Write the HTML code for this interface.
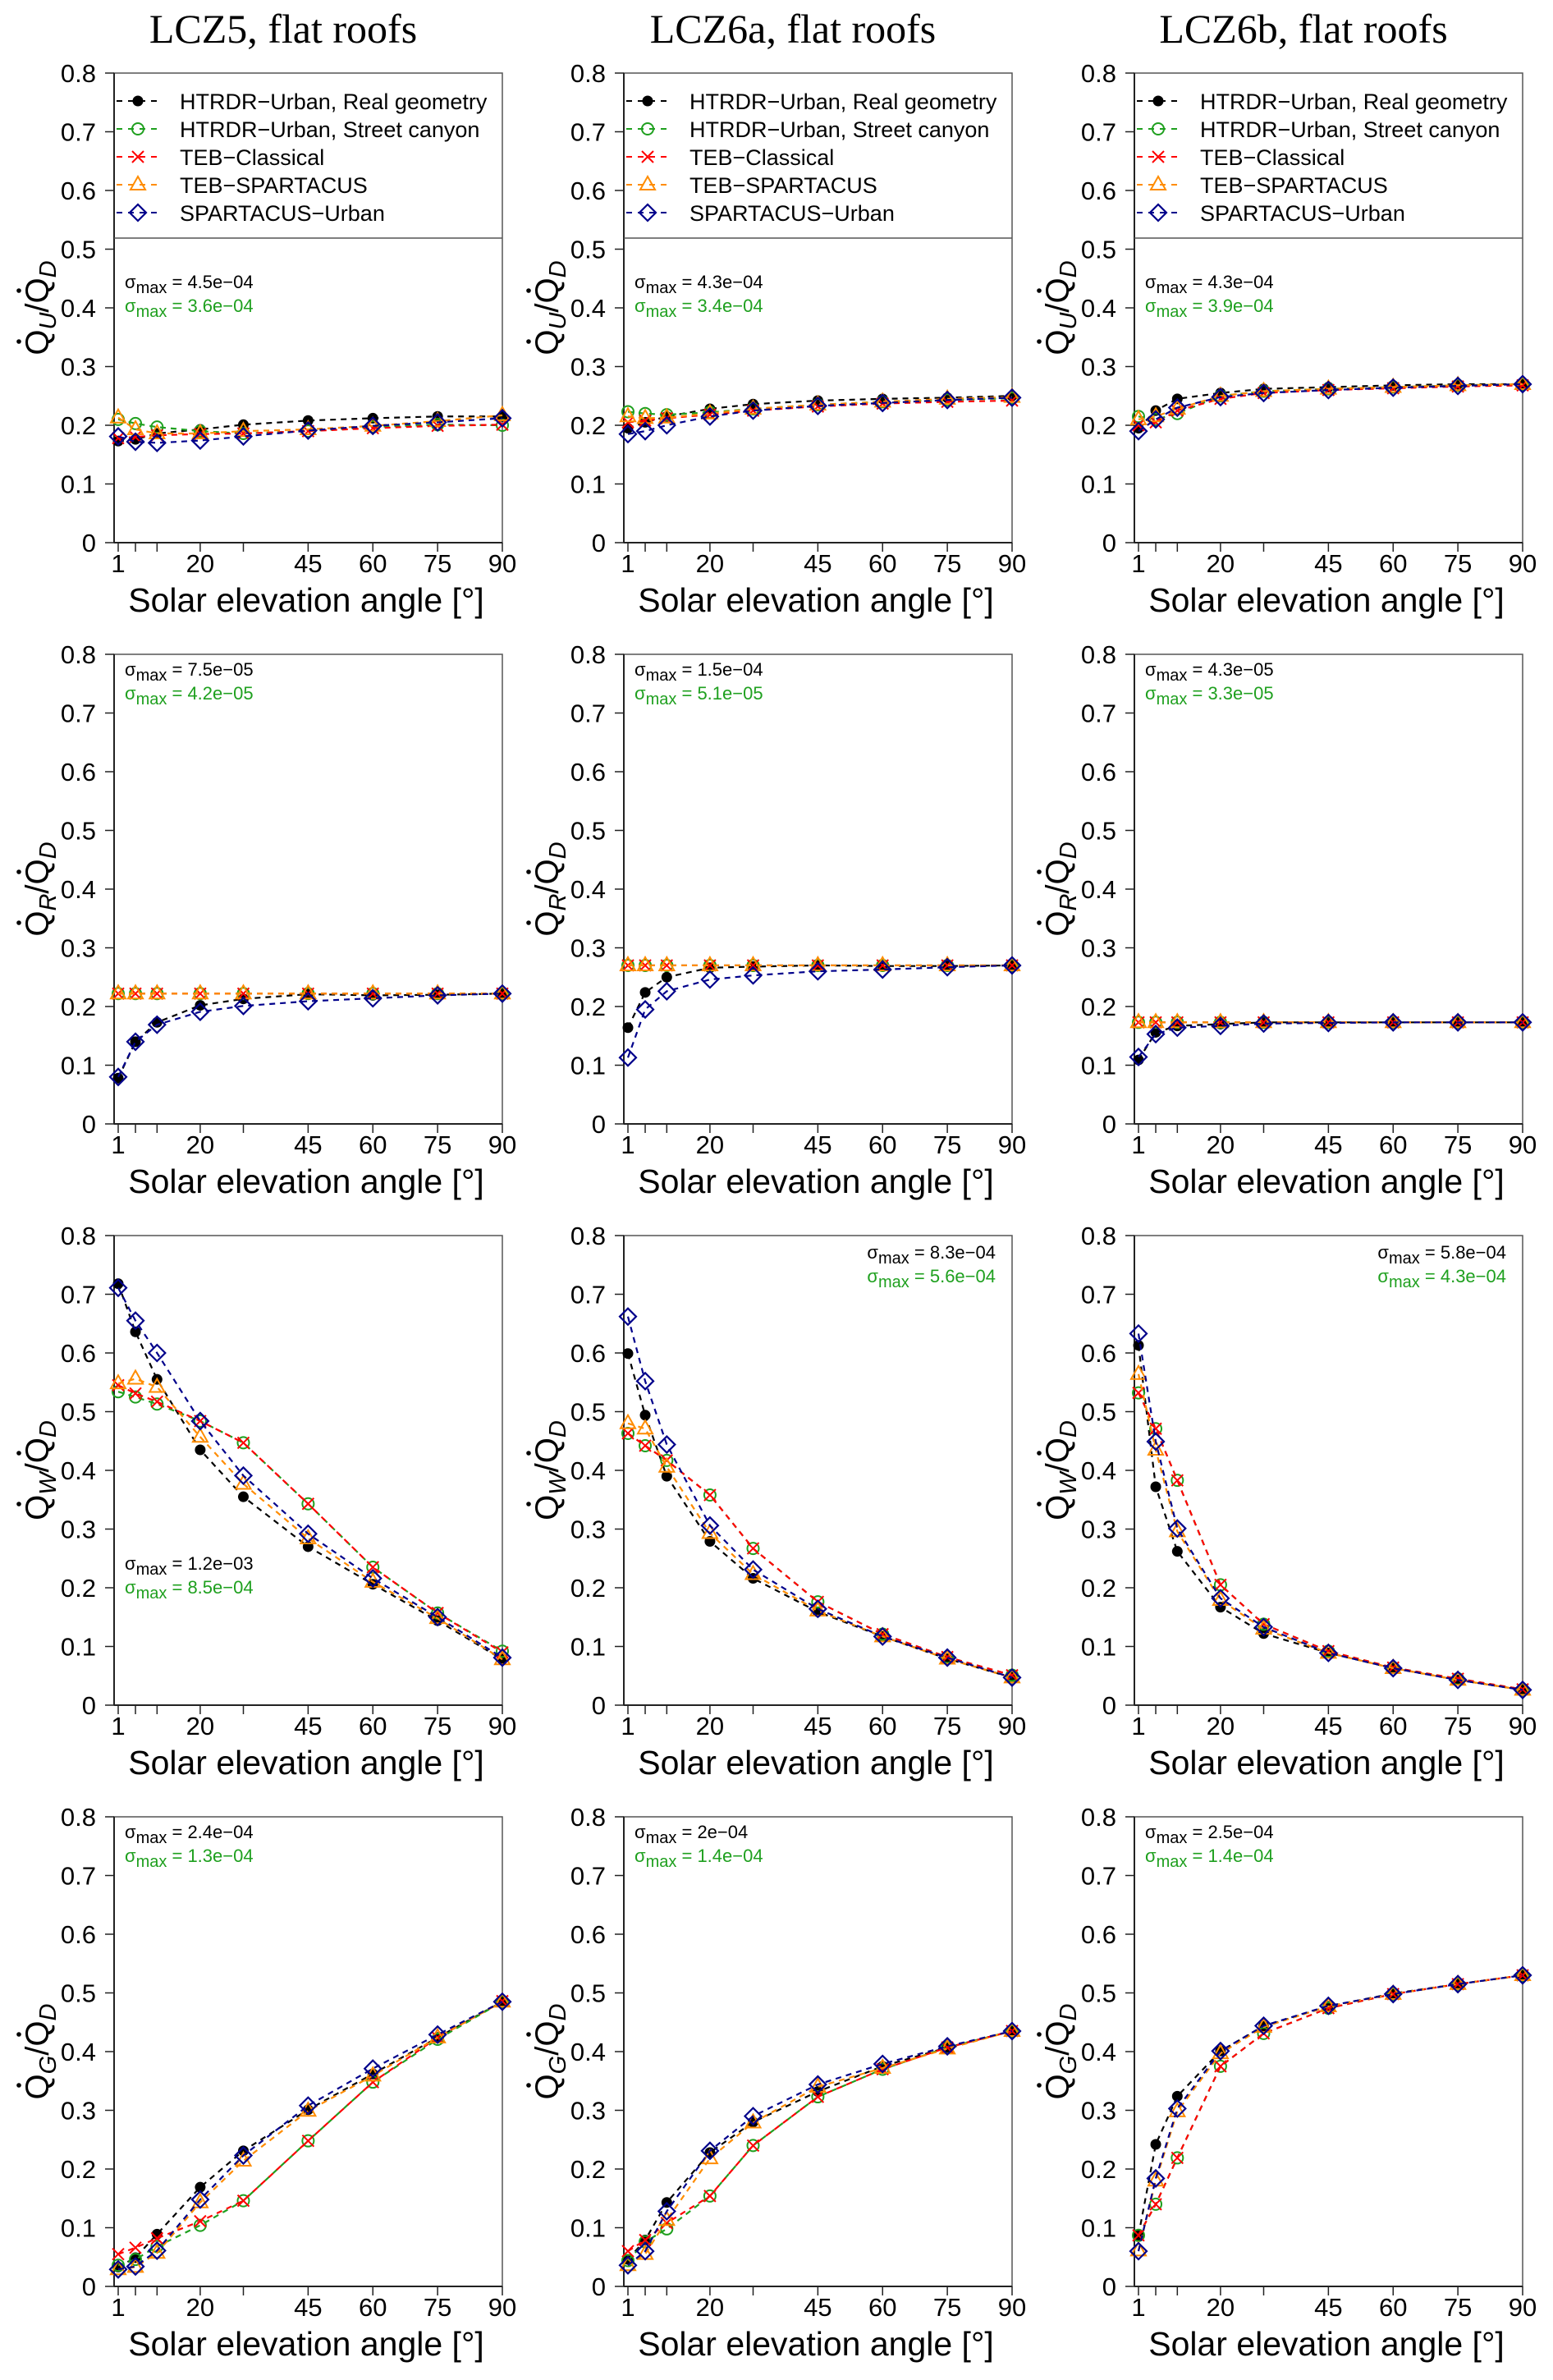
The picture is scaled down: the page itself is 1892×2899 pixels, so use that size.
<!DOCTYPE html>
<html><head><meta charset="utf-8"><style>
html,body{margin:0;padding:0;background:#fff;}
svg{display:block;font-family:"Liberation Sans",sans-serif;}
</style></head>
<body>
<svg id="fig" width="1892" height="2899" viewBox="0 0 1892 2899" xmlns="http://www.w3.org/2000/svg"></svg>
<script>
// ---- data ----
const angles = [1,5,10,20,30,45,60,75,90];
const xTickLabels = ["1","","","20","","45","60","75","90"];
const yTicks = [0,0.1,0.2,0.3,0.4,0.5,0.6,0.7,0.8];
const yTickLabels = ["0","0.1","0.2","0.3","0.4","0.5","0.6","0.7","0.8"];
const columnTitles = ["LCZ5, flat roofs","LCZ6a, flat roofs","LCZ6b, flat roofs"];
const seriesNames = ["HTRDR\u2212Urban, Real geometry","HTRDR\u2212Urban, Street canyon","TEB\u2212Classical","TEB\u2212SPARTACUS","SPARTACUS\u2212Urban"];
const rowVars = ["U","R","W","G"];

// Row U
const U_lcz5_real = [0.173,0.176,0.186,0.193,0.201,0.208,0.212,0.215,0.215];
const U_lcz5_canyon = [0.210,0.203,0.197,0.190,0.186,0.190,0.197,0.201,0.200];
const U_lcz5_teb = [0.178,0.180,0.183,0.185,0.186,0.190,0.195,0.199,0.201];
const U_lcz5_tebsp = [0.213,0.193,0.186,0.186,0.190,0.193,0.199,0.207,0.217];
const U_lcz5_sp = [0.181,0.172,0.170,0.174,0.181,0.191,0.199,0.205,0.212];
const U_lcz6a_real = [0.195,0.205,0.215,0.228,0.236,0.242,0.245,0.247,0.250];
const U_lcz6a_canyon = [0.223,0.220,0.218,0.222,0.228,0.235,0.240,0.243,0.246];
const U_lcz6a_teb = [0.205,0.208,0.212,0.218,0.225,0.232,0.237,0.240,0.242];
const U_lcz6a_tebsp = [0.215,0.212,0.213,0.220,0.228,0.235,0.240,0.245,0.248];
const U_lcz6a_sp = [0.185,0.190,0.200,0.215,0.225,0.233,0.238,0.243,0.247];
const U_lcz6b_real = [0.195,0.225,0.245,0.255,0.262,0.265,0.268,0.270,0.270];
const U_lcz6b_canyon = [0.215,0.210,0.220,0.250,0.258,0.262,0.265,0.268,0.270];
const U_lcz6b_teb = [0.200,0.205,0.225,0.245,0.255,0.260,0.263,0.266,0.268];
const U_lcz6b_tebsp = [0.210,0.215,0.228,0.250,0.258,0.262,0.265,0.268,0.270];
const U_lcz6b_sp = [0.190,0.210,0.230,0.248,0.255,0.260,0.264,0.267,0.270];
// Row R
const R_lcz5_real = [0.078,0.140,0.173,0.202,0.213,0.221,0.219,0.220,0.222];
const R_lcz5_canyon = [0.222,0.222,0.222,0.222,0.222,0.222,0.222,0.222,0.222];
const R_lcz5_teb = [0.222,0.222,0.222,0.222,0.222,0.222,0.222,0.222,0.222];
const R_lcz5_tebsp = [0.222,0.222,0.222,0.222,0.222,0.222,0.222,0.222,0.222];
const R_lcz5_sp = [0.080,0.140,0.169,0.191,0.201,0.209,0.214,0.219,0.222];
const R_lcz6a_real = [0.164,0.224,0.250,0.266,0.268,0.270,0.269,0.269,0.270];
const R_lcz6a_canyon = [0.270,0.270,0.270,0.270,0.270,0.270,0.270,0.270,0.270];
const R_lcz6a_teb = [0.270,0.270,0.270,0.270,0.270,0.270,0.270,0.270,0.270];
const R_lcz6a_tebsp = [0.270,0.270,0.270,0.270,0.270,0.270,0.270,0.270,0.270];
const R_lcz6a_sp = [0.113,0.195,0.226,0.246,0.253,0.260,0.263,0.267,0.270];
const R_lcz6b_real = [0.109,0.156,0.167,0.170,0.173,0.173,0.173,0.173,0.173];
const R_lcz6b_canyon = [0.173,0.173,0.173,0.173,0.173,0.173,0.173,0.173,0.173];
const R_lcz6b_teb = [0.173,0.173,0.173,0.173,0.173,0.173,0.173,0.173,0.173];
const R_lcz6b_tebsp = [0.173,0.173,0.173,0.173,0.173,0.173,0.173,0.173,0.173];
const R_lcz6b_sp = [0.114,0.153,0.164,0.167,0.171,0.172,0.173,0.173,0.173];
// Row W
const W_lcz5_real = [0.718,0.636,0.555,0.435,0.355,0.270,0.206,0.144,0.078];
const W_lcz5_canyon = [0.534,0.525,0.513,0.484,0.447,0.343,0.235,0.157,0.092];
const W_lcz5_teb = [0.545,0.531,0.517,0.484,0.447,0.343,0.235,0.157,0.090];
const W_lcz5_tebsp = [0.548,0.556,0.542,0.457,0.377,0.284,0.210,0.148,0.078];
const W_lcz5_sp = [0.711,0.655,0.600,0.484,0.391,0.292,0.216,0.150,0.081];
const W_lcz6a_real = [0.599,0.494,0.390,0.279,0.216,0.159,0.117,0.079,0.047];
const W_lcz6a_canyon = [0.463,0.442,0.417,0.358,0.267,0.176,0.121,0.082,0.051];
const W_lcz6a_teb = [0.463,0.442,0.417,0.358,0.267,0.176,0.121,0.082,0.051];
const W_lcz6a_tebsp = [0.480,0.471,0.406,0.293,0.223,0.161,0.117,0.079,0.047];
const W_lcz6a_sp = [0.662,0.552,0.444,0.306,0.231,0.164,0.117,0.081,0.047];
const W_lcz6b_real = [0.613,0.372,0.262,0.167,0.122,0.089,0.063,0.043,0.026];
const W_lcz6b_canyon = [0.532,0.471,0.383,0.205,0.138,0.092,0.064,0.045,0.027];
const W_lcz6b_teb = [0.532,0.471,0.383,0.205,0.138,0.092,0.064,0.045,0.027];
const W_lcz6b_tebsp = [0.564,0.435,0.296,0.179,0.130,0.089,0.063,0.043,0.026];
const W_lcz6b_sp = [0.633,0.449,0.301,0.182,0.133,0.089,0.063,0.043,0.026];
// Row G
const G_lcz5_real = [0.033,0.049,0.089,0.169,0.231,0.301,0.362,0.424,0.485];
const G_lcz5_canyon = [0.036,0.046,0.068,0.104,0.146,0.248,0.348,0.421,0.485];
const G_lcz5_teb = [0.055,0.066,0.082,0.111,0.146,0.248,0.348,0.424,0.486];
const G_lcz5_tebsp = [0.029,0.033,0.057,0.143,0.214,0.299,0.359,0.424,0.485];
const G_lcz5_sp = [0.029,0.034,0.061,0.148,0.223,0.308,0.371,0.429,0.485];
const G_lcz6a_real = [0.046,0.079,0.143,0.228,0.280,0.332,0.375,0.407,0.435];
const G_lcz6a_canyon = [0.044,0.076,0.098,0.154,0.240,0.323,0.370,0.407,0.435];
const G_lcz6a_teb = [0.060,0.079,0.108,0.154,0.240,0.323,0.370,0.407,0.435];
const G_lcz6a_tebsp = [0.036,0.055,0.113,0.218,0.279,0.340,0.372,0.405,0.435];
const G_lcz6a_sp = [0.036,0.060,0.128,0.231,0.290,0.344,0.379,0.409,0.435];
const G_lcz6b_real = [0.087,0.242,0.324,0.401,0.443,0.477,0.499,0.515,0.530];
const G_lcz6b_canyon = [0.087,0.140,0.219,0.375,0.431,0.474,0.498,0.515,0.530];
const G_lcz6b_teb = [0.087,0.140,0.219,0.375,0.431,0.474,0.498,0.515,0.530];
const G_lcz6b_tebsp = [0.061,0.180,0.298,0.397,0.442,0.477,0.498,0.515,0.530];
const G_lcz6b_sp = [0.060,0.184,0.303,0.401,0.444,0.478,0.498,0.515,0.530];

const sigmaBlack = [["4.5e\u221204","4.3e\u221204","4.3e\u221204"],["7.5e\u221205","1.5e\u221204","4.3e\u221205"],["1.2e\u221203","8.3e\u221204","5.8e\u221204"],["2.4e\u221204","2e\u221204","2.5e\u221204"]];
const sigmaGreen = [["3.6e\u221204","3.4e\u221204","3.9e\u221204"],["4.2e\u221205","5.1e\u221205","3.3e\u221205"],["8.5e\u221204","5.6e\u221204","4.3e\u221204"],["1.3e\u221204","1.4e\u221204","1.4e\u221204"]];

const panelData = [
 [[U_lcz5_real,U_lcz5_canyon,U_lcz5_teb,U_lcz5_tebsp,U_lcz5_sp],[U_lcz6a_real,U_lcz6a_canyon,U_lcz6a_teb,U_lcz6a_tebsp,U_lcz6a_sp],[U_lcz6b_real,U_lcz6b_canyon,U_lcz6b_teb,U_lcz6b_tebsp,U_lcz6b_sp]],
 [[R_lcz5_real,R_lcz5_canyon,R_lcz5_teb,R_lcz5_tebsp,R_lcz5_sp],[R_lcz6a_real,R_lcz6a_canyon,R_lcz6a_teb,R_lcz6a_tebsp,R_lcz6a_sp],[R_lcz6b_real,R_lcz6b_canyon,R_lcz6b_teb,R_lcz6b_tebsp,R_lcz6b_sp]],
 [[W_lcz5_real,W_lcz5_canyon,W_lcz5_teb,W_lcz5_tebsp,W_lcz5_sp],[W_lcz6a_real,W_lcz6a_canyon,W_lcz6a_teb,W_lcz6a_tebsp,W_lcz6a_sp],[W_lcz6b_real,W_lcz6b_canyon,W_lcz6b_teb,W_lcz6b_tebsp,W_lcz6b_sp]],
 [[G_lcz5_real,G_lcz5_canyon,G_lcz5_teb,G_lcz5_tebsp,G_lcz5_sp],[G_lcz6a_real,G_lcz6a_canyon,G_lcz6a_teb,G_lcz6a_tebsp,G_lcz6a_sp],[G_lcz6b_real,G_lcz6b_canyon,G_lcz6b_teb,G_lcz6b_tebsp,G_lcz6b_sp]]
];

// ---- layout ----
const NS = "http://www.w3.org/2000/svg";
const svg = document.getElementById('fig');
const colLeft = [139,760,1382];
const plotW = 473;
const rowTop = [89,797,1505,2213];
const plotH = 572;
const colors = ["#000000","#1fa01f","#ff0000","#ff8c00","#00008b"];
const markers = ["dot","circle","cross","tri","diamond"];
const drawOrder = [0,1,2,3,4];

function mk(tag, attrs, parent){
  const e = document.createElementNS(NS, tag);
  for (const k in attrs) e.setAttribute(k, attrs[k]);
  (parent||svg).appendChild(e);
  return e;
}
function xScale(c, v){ return colLeft[c] + 5 + (v-1)/89*(plotW-5); }
function yScale(r, v){ return rowTop[r] + plotH - v/0.8*plotH; }

function drawMarker(g, type, x, y, color){
  let m;
  if (type==="dot") m = mk('circle',{cx:x,cy:y,r:6.5,fill:color},g);
  else if (type==="circle") m = mk('circle',{cx:x,cy:y,r:7,fill:'none',stroke:color,'stroke-width':2},g);
  else if (type==="cross") m = mk('path',{d:`M${x-7},${y-7}L${x+7},${y+7}M${x-7},${y+7}L${x+7},${y-7}`,stroke:color,'stroke-width':2,fill:'none'},g);
  else if (type==="tri") m = mk('path',{d:`M${x},${y-10}L${x+9},${y+6}L${x-9},${y+6}Z`,stroke:color,'stroke-width':2,fill:'none'},g);
  else m = mk('path',{d:`M${x},${y-10}L${x+10},${y}L${x},${y+10}L${x-10},${y}Z`,stroke:color,'stroke-width':2.2,fill:'none'},g);
  return m;
}

function sigmaText(g, x, y, val, color, anchor){
  const t = mk('text',{x:x,y:y,'font-size':22,fill:color,'text-anchor':anchor},g);
  
  
  const s1 = mk('tspan',{},t); s1.textContent = "\u03c3";
  const s2 = mk('tspan',{dy:6,'font-size':20},t); s2.textContent = "max";
  const s3 = mk('tspan',{dy:-6},t); s3.textContent = " = " + val;
}

for (let c=0;c<3;c++){
  const tt = mk('text',{x:colLeft[c]+206,y:52,'font-size':50,'font-family':'"Liberation Serif",serif','text-anchor':'middle',fill:'#000'});
  
  
  tt.textContent = columnTitles[c];
}

for (let r=0;r<4;r++){
  for (let c=0;c<3;c++){
    const g = mk('g',{});
    
    
    const L = colLeft[c], T = rowTop[r], B = T+plotH, R = L+plotW;
    const box = mk('rect',{x:L,y:T,width:plotW,height:plotH,fill:'none',stroke:'#555',"stroke-width":1.5},g);
    
    
    mk('line',{x1:L,y1:T,x2:L,y2:B,stroke:'#222','stroke-width':2},g);
    mk('line',{x1:L,y1:B,x2:R,y2:B,stroke:'#222','stroke-width':2},g);
    for (let i=0;i<yTicks.length;i++){
      const y = yScale(r,yTicks[i]);
      mk('line',{x1:L-11,y1:y,x2:L,y2:y,stroke:'#222','stroke-width':1.5},g);
      const t = mk('text',{x:L-22,y:y+11,'font-size':31,'text-anchor':'end',fill:'#000'},g);
      
      
      t.textContent = yTickLabels[i];
    }
    for (let i=0;i<angles.length;i++){
      const x = xScale(c,angles[i]);
      mk('line',{x1:x,y1:B,x2:x,y2:B+11,stroke:'#222','stroke-width':1.5},g);
      if (xTickLabels[i]){
        const t = mk('text',{x:x,y:B+36,'font-size':31,'text-anchor':'middle',fill:'#000'},g);
        
        
        t.textContent = xTickLabels[i];
      }
    }
    const xt = mk('text',{x:L+234,y:B+84,'font-size':41,'text-anchor':'middle',fill:'#000'},g);
    
    
    xt.textContent = "Solar elevation angle [\u00b0]";
    const cx = L-80, cy = T+plotH/2;
    const yt = mk('text',{x:cx,y:cy,'font-size':40,'text-anchor':'middle',fill:'#000',transform:`rotate(-90 ${cx} ${cy})`},g);
    
    
    const a1 = mk('tspan',{},yt); a1.textContent="Q";
    const a2 = mk('tspan',{dy:9,'font-size':29,'font-style':'italic'},yt); a2.textContent=rowVars[r];
    const a3 = mk('tspan',{dy:-9},yt); a3.textContent="/Q";
    const a4 = mk('tspan',{dy:9,'font-size':29,'font-style':'italic'},yt); a4.textContent="D";
    const wQ = 31, wSub = 20, wSlash = 11;
    const total = wQ + wSub + wSlash + wQ + 20;
    const startY = cy + total/2;
    [startY - wQ/2, startY - wQ - wSub - wSlash - wQ/2].forEach(py=>{
      mk('circle',{cx:cx-36,cy:py,r:2.8,fill:'#000'},g);
    });
    const data = panelData[r][c];
    for (const s of drawOrder){
      const vals = data[s];
      const pts = vals.map((v,i)=>xScale(c,angles[i])+','+yScale(r,v)).join(' ');
      const pl = mk('polyline',{points:pts,fill:'none',stroke:colors[s],'stroke-width':2.2,'stroke-dasharray':'7,6'},g);
      
      
      vals.forEach((v,i)=>{
        const m = drawMarker(g, markers[s], xScale(c,angles[i]), yScale(r,v), colors[s]);
        
        
      });
    }
    if (r===0){
      const lg = mk('g',{},g);
      
      
      mk('rect',{x:L+1,y:T+1,width:plotW-2,height:199,fill:'#fff'},lg);
      mk('line',{x1:L,y1:T+201,x2:R,y2:T+201,stroke:'#555','stroke-width':1.5},lg);
      for (let s=0;s<5;s++){
        const y = T+34+s*34;
        mk('line',{x1:L+3,y1:y,x2:L+56,y2:y,stroke:colors[s],'stroke-width':2,'stroke-dasharray':'7,7'},lg);
        const m = drawMarker(lg, markers[s], L+29, y, colors[s]);
        
        
        const t = mk('text',{x:L+80,y:y+10,'font-size':27,fill:'#000'},lg);
        
        
        t.textContent = seriesNames[s];
      }
    }
    let sx, sy, anchor='start';
    if (r===0){ sx=L+13; sy=T+262; }
    else if (r===2 && c===0){ sx=L+13; sy=T+407; }
    else if (r===2){ sx=R-20; sy=T+28; anchor='end'; }
    else { sx=L+13; sy=T+26; }
    sigmaText(g, sx, sy, sigmaBlack[r][c], '#000', anchor);
    sigmaText(g, sx, sy+29, sigmaGreen[r][c], '#1fa01f', anchor);
  }
}
</script>
</body></html>
